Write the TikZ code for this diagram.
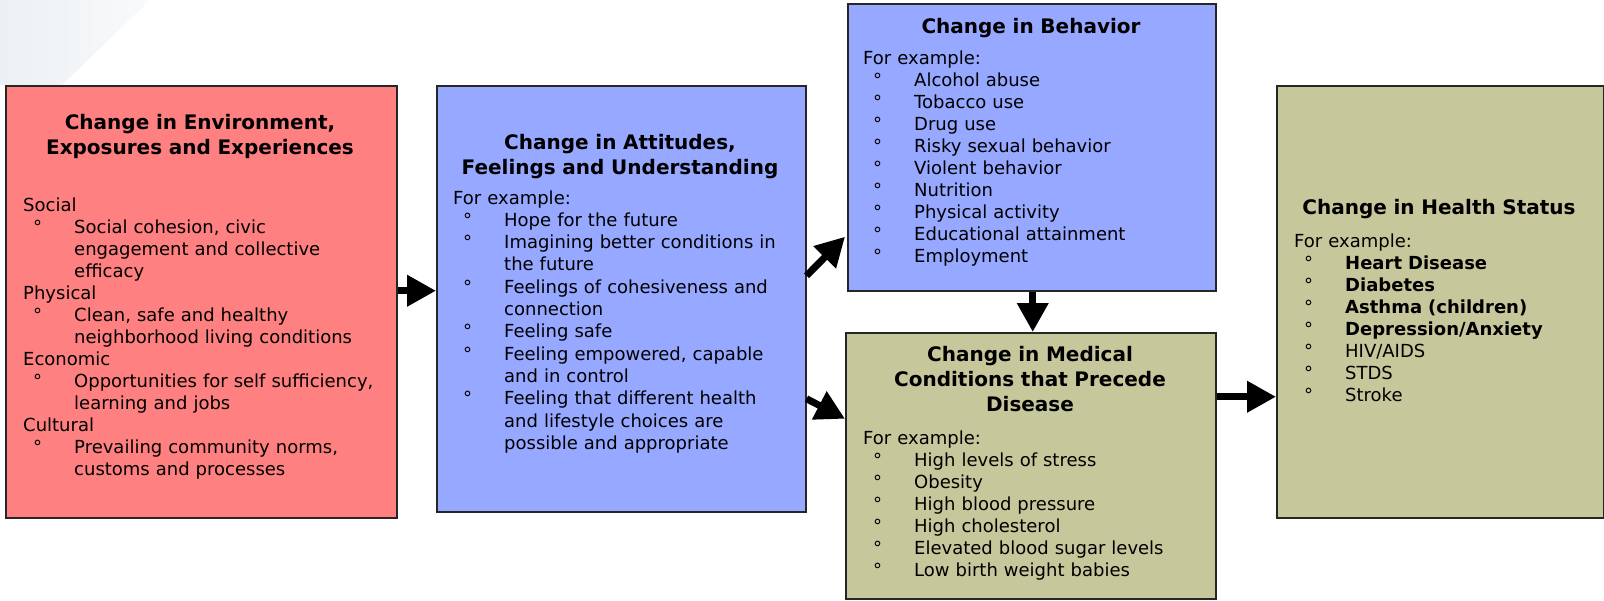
\documentclass[tikz,border=0pt]{standalone}
\usepackage{fontspec}
\setmainfont{DejaVu Sans}
\usetikzlibrary{arrows.meta}
\definecolor{envred}{RGB}{255,128,128}
\definecolor{attblue}{RGB}{150,168,255}
\definecolor{medolive}{RGB}{199,199,156}
\definecolor{swooshA}{RGB}{235,240,244}
\definecolor{swooshB}{RGB}{249,250,251}
\newcommand\bul{\makebox[51pt][l]{\hspace{10pt}°}}
\newcommand\ind{\hspace*{51pt}}
\tikzset{
  box/.style={draw=black!85, line width=1.5pt, inner sep=0pt, anchor=north west},
  ttl/.style={font=\fontsize{20}{25}\selectfont\bfseries, text width=380pt, align=center, anchor=base, inner sep=0pt},
  body/.style={font=\fontsize{18}{22}\selectfont, text width=420pt, align=left, anchor=base west, inner sep=0pt},
  arr/.style={line width=7pt, -{Triangle[length=29pt,width=30pt]}},
}
\begin{document}
\begin{tikzpicture}[x=1pt,y=-1pt]
\useasboundingbox (0,0) rectangle (1604,600);
\shade[left color=swooshA, right color=swooshB] (0,0) -- (150,0) -- (62,85) -- (0,85) -- cycle;

% boxes
\node[box, fill=envred, minimum width=391pt, minimum height=432pt] (b1) at (5,85) {};
\node[box, fill=attblue, minimum width=369pt, minimum height=426pt] (b2) at (436,85) {};
\node[box, fill=attblue, minimum width=368pt, minimum height=287pt] (b3) at (847,3) {};
\node[box, fill=medolive, minimum width=370pt, minimum height=266pt] (b4) at (845,332) {};
\node[box, fill=medolive, minimum width=327pt, minimum height=432pt] (b5) at (1276,85) {};

% titles
\node[ttl] (t1) at (200,129) {Change in Environment,\\Exposures and Experiences};
\node[ttl] (t2) at (620,149) {Change in Attitudes,\\Feelings and Understanding};
\node[ttl] (t3) at (1031,33) {Change in Behavior};
\node[ttl] (t4) at (1030,361) {Change in Medical\\Conditions that Precede\\Disease};
\node[ttl] (t5) at (1439,214) {Change in Health Status};

% bodies
\node[body] (x1) at (23,211) {Social\\
\bul Social cohesion, civic\\
\ind engagement and collective\\
\ind efficacy\\
Physical\\
\bul Clean, safe and healthy\\
\ind neighborhood living conditions\\
Economic\\
\bul Opportunities for self sufficiency,\\
\ind learning and jobs\\
Cultural\\
\bul Prevailing community norms,\\
\ind customs and processes};

\node[body, font=\fontsize{18}{22.3}\selectfont] (x2) at (453,204) {For example:\\
\bul Hope for the future\\
\bul Imagining better conditions in\\
\ind the future\\
\bul Feelings of cohesiveness and\\
\ind connection\\
\bul Feeling safe\\
\bul Feeling empowered, capable\\
\ind and in control\\
\bul Feeling that different health\\
\ind and lifestyle choices are\\
\ind possible and appropriate};

\node[body] (x3) at (863,64) {For example:\\
\bul Alcohol abuse\\
\bul Tobacco use\\
\bul Drug use\\
\bul Risky sexual behavior\\
\bul Violent behavior\\
\bul Nutrition\\
\bul Physical activity\\
\bul Educational attainment\\
\bul Employment};

\node[body] (x4) at (863,444) {For example:\\
\bul High levels of stress\\
\bul Obesity\\
\bul High blood pressure\\
\bul High cholesterol\\
\bul Elevated blood sugar levels\\
\bul Low birth weight babies};

\node[body] (x5) at (1294,247) {For example:\\
\bul \textbf{Heart Disease}\\
\bul \textbf{Diabetes}\\
\bul \textbf{Asthma (children)}\\
\bul \textbf{Depression/Anxiety}\\
\bul HIV/AIDS\\
\bul STDS\\
\bul Stroke};

% connectors
\coordinate (a1) at ([yshift=11pt]b1.east);
\draw[arr] (a1) -- (a1 -| b2.west);
\draw[arr] ([yshift=23pt]b2.east) -- ([xshift=-2pt,yshift=-89.5pt]b3.west);
\draw[arr] ([yshift=-100pt]b2.east) -- ([yshift=47pt]b4.west);
\coordinate (a4) at ([xshift=1pt]b3.south);
\draw[arr] (a4) -- (a4 |- b4.north);
\coordinate (a5) at ([yshift=69pt]b4.east);
\draw[arr] (a5) -- (a5 -| b5.west);
\end{tikzpicture}
\end{document}
